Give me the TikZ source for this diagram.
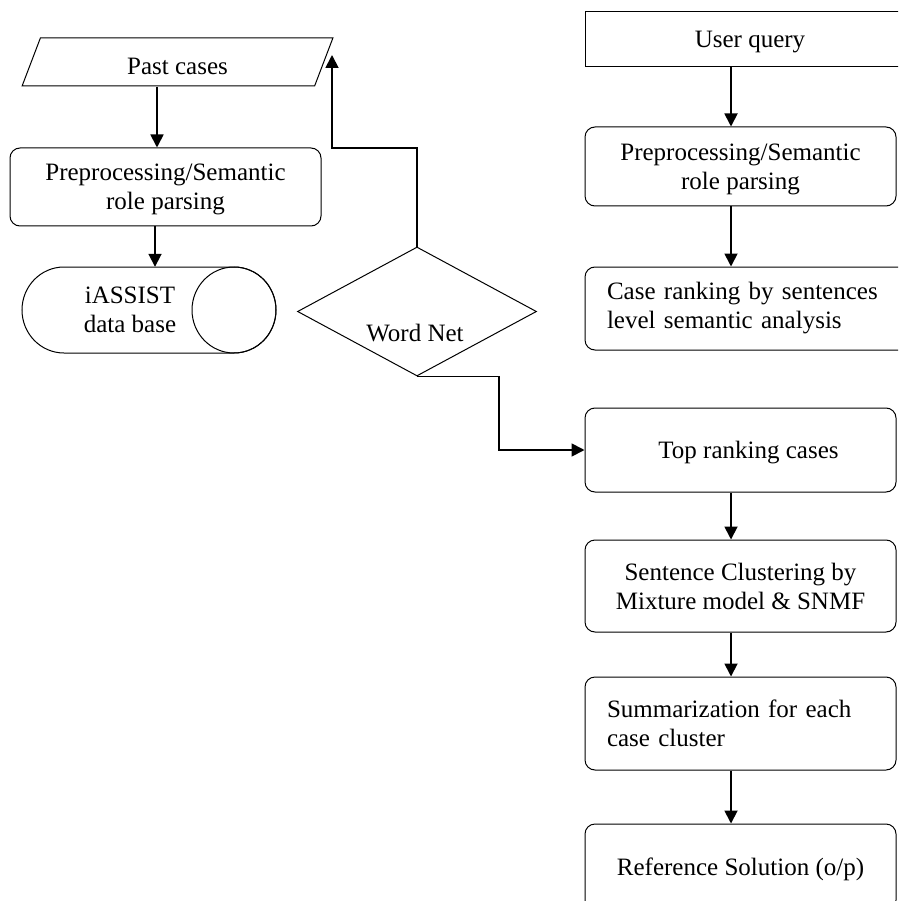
\documentclass[tikz,border=0pt]{standalone}
\usepackage{fontspec}
\setmainfont{Liberation Serif}
\usetikzlibrary{shapes.geometric,arrows.meta}
\begin{document}
\begin{tikzpicture}[x=1pt,y=1pt,
  every node/.style={font=\fontsize{25}{29}\selectfont},
  thin/.style={line width=1pt},
  box/.style={draw,thin,rounded corners=10pt,inner sep=0pt,align=center,text depth=0pt},
  sqbox/.style={draw,thin,inner sep=0pt,align=center,text depth=0pt},
  lbox/.style={draw,thin,rounded corners=10pt,inner ysep=0pt,inner xsep=22pt,align=left},
  arr/.style={line width=1.8pt,-{Triangle[length=13pt,width=13pt]}}]
\useasboundingbox (0,0) rectangle (898,-901);
\clip (0,0) rectangle (898,-901);
% left column
\node[trapezium, trapezium stretches=true, trapezium left angle=68, trapezium right angle=112,
      minimum width=311pt, minimum height=48pt, draw, thin, inner sep=0pt,
      label={[yshift=-4pt]center:Past cases}] (past) at (177.5,-62) {\phantom{Past cases}};
\node[box, minimum width=311pt, minimum height=78pt] (prep1) at (165.5,-187) {Preprocessing/Semantic\\role parsing};
\node[minimum width=254pt, minimum height=86pt, inner sep=0pt] (db) at (149,-310) {};
\draw[thin] (64,-267) -- (234,-267) arc[start angle=90,end angle=-90,x radius=42pt,y radius=43pt]
  -- (64,-353) arc[start angle=270,end angle=90,x radius=42pt,y radius=43pt] -- cycle;
\draw[thin] (234,-310) ellipse [x radius=42pt, y radius=43pt];
\node[align=center] (dbtext) at (130,-310) {iASSIST\\data base};
% diamond
\node[diamond, draw, thin, minimum width=239pt, minimum height=129pt, inner sep=0pt, aspect=1.85] (wn) at (417,-311.5) {};
\node (wntext) at (415,-333) {Word Net};
% right column
\node[sqbox, minimum width=330pt, minimum height=55pt] (user) at (750,-39.5) {User query};
\node[box, minimum width=311pt, minimum height=79pt] (prep2) at (740.5,-166.5) {Preprocessing/Semantic\\role parsing};
\node[lbox, text width=286pt, minimum height=83pt] (rank) at (750,-308.5) {Case ranking by sentences\\level semantic analysis};
\node[box, minimum width=311pt, minimum height=84pt] (top) at (740.5,-450) {\hspace*{16pt}Top ranking cases};
\node[box, minimum width=311pt, minimum height=92pt] (clus) at (740.5,-586) {Sentence Clustering by\\Mixture model \& SNMF};
\node[lbox, text width=267pt, minimum height=93pt] (summ) at (740.5,-723.5) {Summarization for each\\case cluster};
\node[box, minimum width=311pt, minimum height=86pt] (ref) at (740.5,-867) {Reference Solution (o/p)};
% connectors
\coordinate (lx) at (157,0);
\coordinate (lx2) at (155,0);
\draw[arr] (lx |- past.south) -- (lx |- prep1.north);
\draw[arr] (lx2 |- prep1.south) -- (lx2 |- db.north);
\coordinate (upturn) at (413,-148);
\coordinate (upend) at (332,-55);
\draw[arr] (wn.north) -- (wn.north |- upturn) -| (upend);
\coordinate (dn) at (499,0);
\draw[arr] (wn.south) -| (dn |- top.west) -- (top.west);
\coordinate (rx) at (731,0);
\draw[arr] (rx |- user.south) -- (rx |- prep2.north);
\draw[arr] (rx |- prep2.south) -- (rx |- rank.north);
\draw[arr] (rx |- top.south) -- (rx |- clus.north);
\draw[arr] (rx |- clus.south) -- (rx |- summ.north);
\draw[arr] (rx |- summ.south) -- (rx |- ref.north);
\end{tikzpicture}
\end{document}
